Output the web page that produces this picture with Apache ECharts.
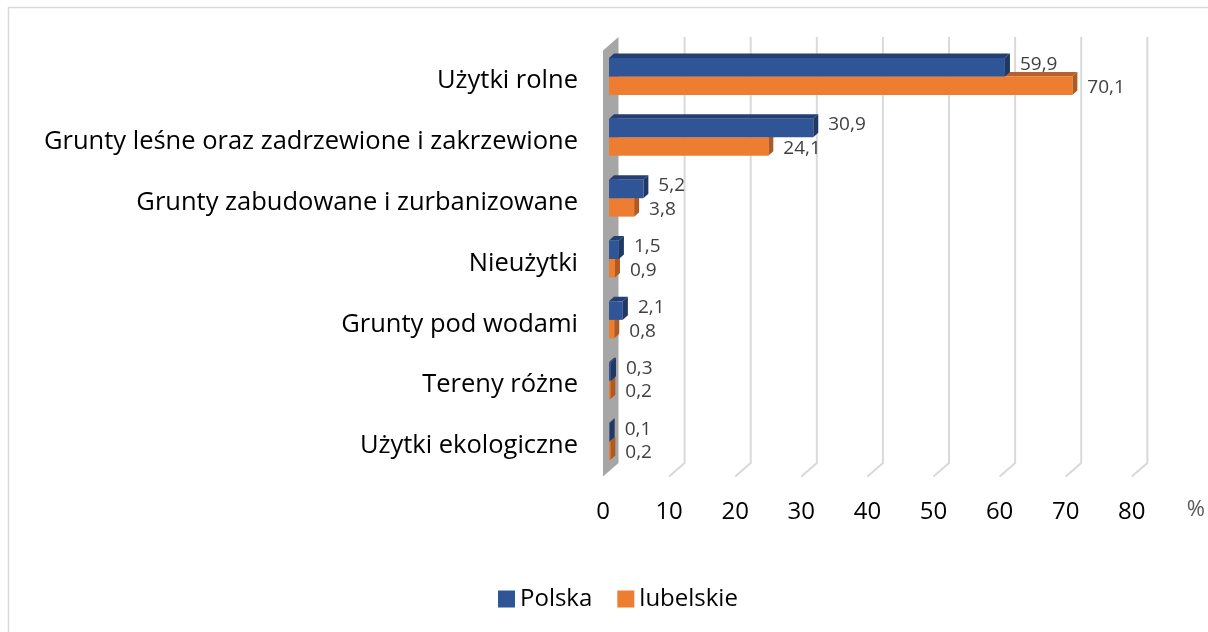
<!DOCTYPE html>
<html lang="pl">
<head>
<meta charset="UTF-8">
<title>Struktura użytkowania gruntów</title>
<script src="https://cdn.jsdelivr.net/npm/echarts@6/dist/echarts.min.js"></script>
<style>
    html, body { margin: 0; padding: 0; background: #fff; }
    #main { width: 1208px; height: 632px; }
</style>
</head>
<body>
<div id="main"></div>
<script type="text/javascript">
    var kategorie = ['Użytki rolne', 'Grunty leśne oraz zadrzewione i zakrzewione', 'Grunty zabudowane i zurbanizowane',
        'Nieużytki', 'Grunty pod wodami', 'Tereny różne', 'Użytki ekologiczne'];
    var polska = [59.9, 30.9, 5.2, 1.5, 2.1, 0.3, 0.1];
    var lubelskie = [70.1, 24.1, 3.8, 0.9, 0.8, 0.2, 0.2];
    var podzialka = [10, 20, 30, 40, 50, 60, 70, 80];

    // kolory: przód, góra, bok
    var kolorPolska = ['#2f5597', '#243f73', '#1f3864'];
    var kolorLubelskie = ['#ed7d31', '#b8612a', '#ae5a21'];

    var FONT = 'Open Sans';
    var GLEB = [15.5, -13.5];   // głębia całej "podłogi" 3D
    var PRZES = [6, -4.5];      // przesunięcie przedniej ściany słupka
    var GRUB = [5, -4.5];       // grubość słupka
    var WYS = 18.5;             // wysokość słupka

    function fmt(v) {
        return v.toFixed(1).replace('.', ',');
    }

    function rysujSlupek(nr, kol) {
        return function (params, api) {
            var v = api.value(0);
            var cat = api.value(1);
            var start = api.coord([0, cat]);
            var end = api.coord([v, cat]);
            var x0 = start[0] + PRZES[0];
            var x1 = end[0] + PRZES[0];
            var y0 = start[1] + PRZES[1] + (nr === 0 ? -WYS : 0);
            var y1 = y0 + WYS;
            var dx = GRUB[0], dy = GRUB[1];
            var ly = (y0 + y1) / 2 + (nr === 0 ? -3 : 2);
            return {
                type: 'group',
                children: [
                    { type: 'polygon', shape: { points: [[x0, y0], [x0 + dx, y0 + dy], [x1 + dx, y0 + dy], [x1, y0]] },
                        style: { fill: kol[1] } },
                    { type: 'polygon', shape: { points: [[x1, y0], [x1 + dx, y0 + dy], [x1 + dx, y1 + dy], [x1, y1]] },
                        style: { fill: kol[2] } },
                    { type: 'rect', shape: { x: x0, y: y0, width: Math.max(x1 - x0, 0.5), height: WYS },
                        style: { fill: kol[0] } },
                    { type: 'text', style: { text: fmt(v), x: x1 + dx + 10, y: ly, fill: '#404040',
                        fontSize: 19, fontFamily: FONT, align: 'left', verticalAlign: 'middle' } }
                ]
            };
        };
    }

    var chartDom = document.getElementById('main');
    var myChart = echarts.init(chartDom);
    var option;

    option = {
        animation: false,
        backgroundColor: '#fff',
        graphic: [{
            type: 'rect',
            shape: { x: 8.5, y: 7.5, width: 1400, height: 800 },
            style: { fill: 'none', stroke: '#d9d9d9', lineWidth: 1.5 },
            silent: true
        }],
        legend: {
            data: ['Polska', 'lubelskie'],
            left: 493,
            top: 582,
            icon: 'rect',
            itemWidth: 17,
            itemHeight: 17,
            itemGap: 25,
            textStyle: { color: '#000', fontSize: 24, fontFamily: FONT }
        },
        grid: {
            left: 603,
            right: 68,
            top: 50.5,
            bottom: 155.5
        },
        xAxis: {
            type: 'value',
            min: 0,
            max: 80,
            interval: 10,
            name: '%',
            nameLocation: 'end',
            nameGap: 55,
            nameTextStyle: { color: '#595959', fontSize: 22, fontFamily: FONT, verticalAlign: 'top', padding: [22, 0, 0, 0] },
            axisLine: { show: false },
            axisTick: { show: false },
            splitLine: { show: false },
            axisLabel: { color: '#000', fontSize: 24, fontFamily: FONT, margin: 24 }
        },
        yAxis: {
            type: 'category',
            data: kategorie,
            inverse: true,
            axisLine: { show: false },
            axisTick: { show: false },
            axisLabel: { color: '#000', fontSize: 25.5, fontFamily: FONT, margin: 25 }
        },
        series: [
            {
                name: 'siatka',
                type: 'custom',
                z: 1,
                silent: true,
                encode: { x: 0, y: 1 },
                data: podzialka.map(function (v) { return [v, 0]; }),
                renderItem: function (params, api) {
                    var cs = params.coordSys;
                    var x = api.coord([api.value(0), 0])[0];
                    var dol = cs.y + cs.height;
                    return {
                        type: 'polyline',
                        shape: { points: [[x + GLEB[0], cs.y + GLEB[1]], [x + GLEB[0], dol + GLEB[1]], [x, dol]] },
                        style: { stroke: '#d9d9d9', lineWidth: 2, fill: null }
                    };
                }
            },
            {
                name: 'sciana',
                type: 'custom',
                z: 1,
                silent: true,
                encode: { x: 0, y: 1 },
                data: [[0, 0]],
                renderItem: function (params, api) {
                    var cs = params.coordSys;
                    var x = api.coord([0, 0])[0];
                    var dol = cs.y + cs.height;
                    return {
                        type: 'polygon',
                        shape: { points: [[x, cs.y], [x + GLEB[0], cs.y + GLEB[1]], [x + GLEB[0], dol + GLEB[1]], [x, dol]] },
                        style: { fill: '#a6a6a6' }
                    };
                }
            },
            {
                name: 'Polska',
                type: 'custom',
                z: 4,
                itemStyle: { color: kolorPolska[0] },
                encode: { x: 0, y: 1 },
                data: polska.map(function (v, i) { return [v, i]; }),
                renderItem: rysujSlupek(0, kolorPolska)
            },
            {
                name: 'lubelskie',
                type: 'custom',
                z: 3,
                itemStyle: { color: kolorLubelskie[0] },
                encode: { x: 0, y: 1 },
                data: lubelskie.map(function (v, i) { return [v, i]; }),
                renderItem: rysujSlupek(1, kolorLubelskie)
            }
        ]
    };

    option && myChart.setOption(option);
    window.addEventListener("resize", function () {
        myChart.resize();
    });
</script>
</body>
</html>
